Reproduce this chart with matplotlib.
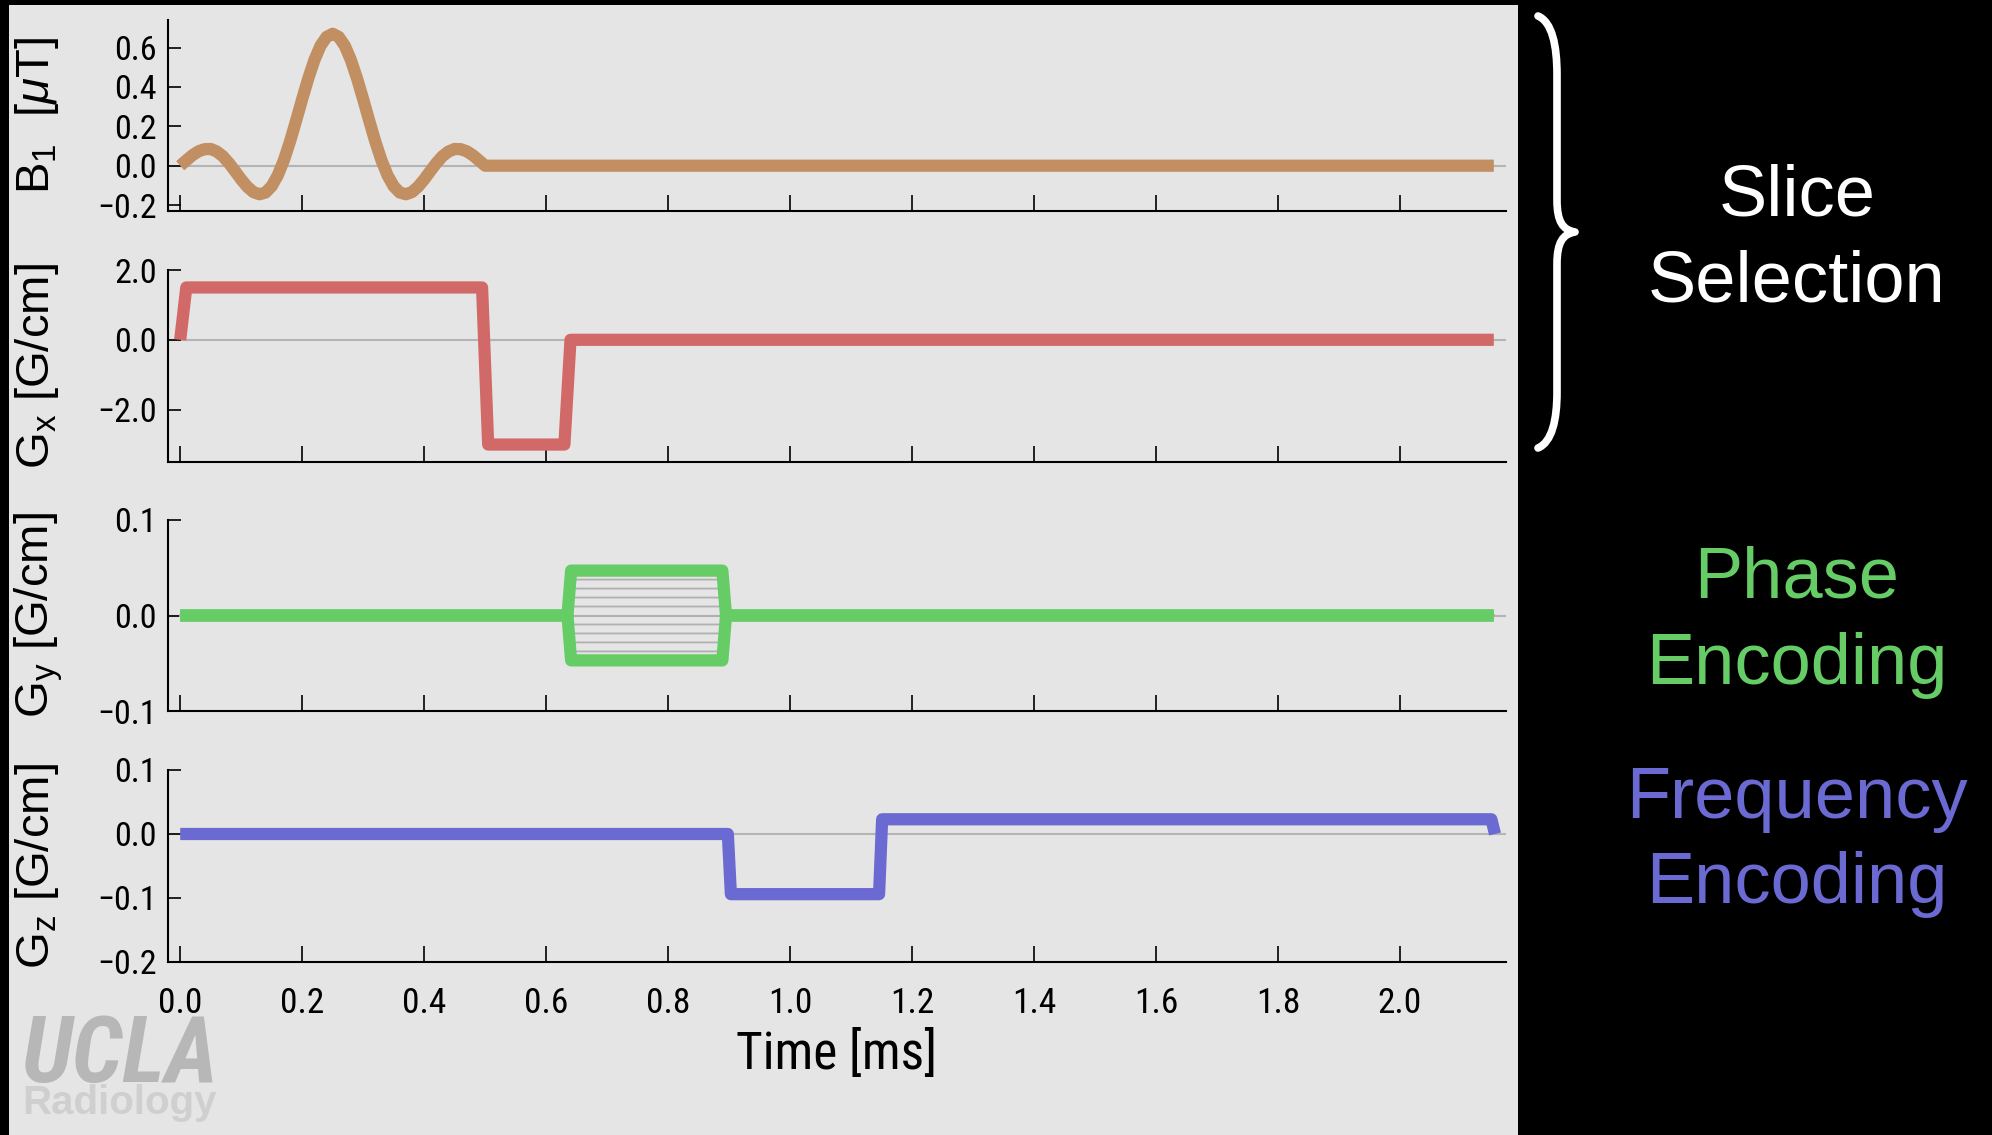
import numpy as np
import matplotlib
matplotlib.use('Agg')
import matplotlib.pyplot as plt
from matplotlib import font_manager
from matplotlib.font_manager import FontProperties
from matplotlib.patches import Rectangle, PathPatch
from matplotlib.path import Path

plt.rcParams['font.family'] = ['Liberation Sans', 'DejaVu Sans']
plt.rcParams['mathtext.fontset'] = 'custom'
plt.rcParams['mathtext.rm'] = 'Liberation Sans'
plt.rcParams['mathtext.it'] = 'Liberation Sans:italic'

# ---- data (time in ms) ----
# B1 sinc pulse, sampled every 0.01 ms over 0..0.5 ms, then flat
b1_t = [i * 0.01 for i in range(51)] + [2.154]
b1_val = [0.0, 0.027, 0.053, 0.073, 0.084, 0.085, 0.072, 0.048, 0.013, -0.028,
          -0.070, -0.107, -0.134, -0.145, -0.136, -0.104, -0.049, 0.028, 0.122, 0.228,
          0.338, 0.443, 0.536, 0.609, 0.654, 0.670, 0.654, 0.609, 0.536, 0.443,
          0.338, 0.228, 0.122, 0.028, -0.049, -0.104, -0.136, -0.145, -0.134, -0.107,
          -0.070, -0.028, 0.013, 0.048, 0.072, 0.085, 0.084, 0.073, 0.053, 0.027,
          0.0, 0.0]

gx_t = [0.0, 0.01, 0.495, 0.505, 0.63, 0.64, 2.154]
gx_val = [0.0, 1.5, 1.5, -3.0, -3.0, 0.0, 0.0]

# phase encoding table: one trapezoid per step
gy_t = [0.0, 0.635, 0.641, 0.889, 0.895, 2.154]
gy_amp = [-0.047, -0.0376, -0.0282, -0.0188, -0.0094, 0.0,
          0.0094, 0.0188, 0.0282, 0.0376, 0.047]

gz_t = [0.0, 0.898, 0.903, 1.146, 1.151, 2.150, 2.156]
gz_val = [0.0, 0.0, -0.094, -0.094, 0.023, 0.023, 0.0]

time_ticks = [0.0, 0.2, 0.4, 0.6, 0.8, 1.0, 1.2, 1.4, 1.6, 1.8, 2.0]
b1_ticks = [-0.2, 0.0, 0.2, 0.4, 0.6]
gx_ticks = [-2.0, 0.0, 2.0]
gy_ticks = [-0.1, 0.0, 0.1]
gz_ticks = [-0.2, -0.1, 0.0, 0.1]

C_B1 = '#c18f61'
C_GX = '#d26969'
C_GY = '#66cc66'
C_GZ = '#6a6ad2'
BG = '#e5e5e5'
LW = 8.8


def find_font(name, weight=400, style='normal'):
    # closest installed face of a family; static files before variable ones
    cands = [f for f in font_manager.fontManager.ttflist
             if f.name == name and f.style in ((style, 'oblique') if style != 'normal' else ('normal',))]
    if not cands:
        return None
    def wnum(f):
        w = f.weight
        return w if isinstance(w, int) else font_manager.weight_dict.get(w, 400)
    cands.sort(key=lambda f: (abs(wnum(f) - weight), '[' in f.fname))
    return cands[0].fname


NARROW_PATH = find_font('Roboto Condensed')
LOGO_PATH = find_font('Roboto Condensed', 900, 'italic')


def narrow_fp(size, path=NARROW_PATH):
    if path:
        return FontProperties(fname=path, size=size)
    return FontProperties(family='Liberation Sans', size=size * 0.85)


W, H = 1992, 1135
fig = plt.figure(figsize=(W / 100, H / 100), dpi=100, facecolor='black')
fig.patches.append(Rectangle((9 / W, 0), (1518 - 9) / W, (H - 5) / H,
                             transform=fig.transFigure, facecolor=BG,
                             edgecolor='none', zorder=-10))


def make_axes(top, bottom, ylim, yticks, ylabel):
    ax = fig.add_axes([168 / W, 1 - bottom / H, (1506 - 168) / W, (bottom - top) / H])
    ax.set_facecolor('none')
    for s in ['top', 'right']:
        ax.spines[s].set_visible(False)
    for s in ['left', 'bottom']:
        ax.spines[s].set_linewidth(1.5)
    ax.set_xlim(-0.02, 2.174)
    ax.set_ylim(*ylim)
    ax.set_xticks(time_ticks)
    ax.set_xticklabels([])
    ax.set_yticks(yticks, [f'{v:.1f}'.replace('-', '\u2212') for v in yticks])
    ax.tick_params(axis='x', direction='in', length=11.5, width=1.2)
    ax.tick_params(axis='y', direction='in', length=9, width=1.2, pad=8)
    for lab in ax.get_yticklabels():
        lab.set_fontproperties(narrow_fp(24.5))
    ax.axhline(0, color='#b4b4b4', lw=1.5, zorder=1)
    ax.set_ylabel(ylabel, fontsize=34, va='baseline')
    ax.yaxis.set_label_coords((49 - 168) / (1506 - 168), 0.5)
    return ax


ax1 = make_axes(20, 211, (-0.23, 0.74), b1_ticks, r'$\mathregular{B_1}$  [$\mu$T]')
ax1.plot(b1_t, b1_val, color=C_B1, lw=LW, solid_joinstyle='round',
         solid_capstyle='butt', zorder=3)

ax2 = make_axes(270, 462, (-3.5, 2.0), gx_ticks, r'$\mathregular{G_x}$ [G/cm]')
ax2.plot(gx_t, gx_val, color=C_GX, lw=LW, solid_joinstyle='round',
         solid_capstyle='butt', zorder=3)

ax3 = make_axes(520, 711, (-0.1, 0.1), gy_ticks, r'$\mathregular{G_y}$ [G/cm]')
for a in gy_amp[1:-1]:
    ax3.plot(gy_t, [0, 0, a, a, 0, 0], color='#b0b0b0', lw=1.3, zorder=2)
for a in (gy_amp[0], gy_amp[-1]):
    ax3.plot(gy_t, [0, 0, a, a, 0, 0], color=C_GY, lw=LW, solid_joinstyle='round',
             solid_capstyle='butt', zorder=3)

ax4 = make_axes(770, 962, (-0.2, 0.1), gz_ticks, r'$\mathregular{G_z}$ [G/cm]')
ax4.plot(gz_t, gz_val, color=C_GZ, lw=LW, solid_joinstyle='round',
         solid_capstyle='butt', zorder=3)
ax4.set_xticklabels([f'{v:.1f}' for v in time_ticks])
ax4.tick_params(axis='x', pad=18)
for lab in ax4.get_xticklabels():
    lab.set_fontproperties(narrow_fp(25.5))
ax4.set_xlabel('Time [ms]', fontproperties=narrow_fp(37), labelpad=7)

# overlay in pixel coordinates for the annotations
ov = fig.add_axes([0, 0, 1, 1])
ov.set_xlim(0, W)
ov.set_ylim(H, 0)
ov.axis('off')
ov.patch.set_alpha(0)

verts = [(1538, 16), (1552, 22), (1557, 45), (1557, 75),
         (1557, 200),
         (1557, 222), (1563, 230), (1575, 232),
         (1563, 234), (1557, 242), (1557, 264),
         (1557, 392),
         (1557, 420), (1552, 442), (1538, 448)]
codes = [Path.MOVETO, Path.CURVE4, Path.CURVE4, Path.CURVE4,
         Path.LINETO,
         Path.CURVE4, Path.CURVE4, Path.CURVE4,
         Path.CURVE4, Path.CURVE4, Path.CURVE4,
         Path.LINETO,
         Path.CURVE4, Path.CURVE4, Path.CURVE4]
ov.add_patch(PathPatch(Path(verts, codes), facecolor='none', edgecolor='white',
                       lw=5.5, capstyle='round', joinstyle='round'))

labels = [('Slice', 215, 'white'), ('Selection', 302, 'white'),
          ('Phase', 598, C_GY), ('Encoding', 684, C_GY),
          ('Frequency', 818, C_GZ), ('Encoding', 903, C_GZ)]
for txt, yb, col in labels:
    ov.text(1797, yb, txt, color=col, fontsize=52, ha='center', va='baseline')

# logo
fp_logo = narrow_fp(66, LOGO_PATH)
if LOGO_PATH is None:
    fp_logo.set_weight('bold')
    fp_logo.set_style('italic')
ov.text(21, 1082, 'UCLA', color='#b7b7b7', fontproperties=fp_logo,
        ha='left', va='baseline')
ov.text(22, 1114, 'Radiology', color='#cfcfcf', fontsize=29,
        weight='bold', ha='left', va='baseline')

fig.savefig('out.png', dpi=100, facecolor=fig.get_facecolor())
